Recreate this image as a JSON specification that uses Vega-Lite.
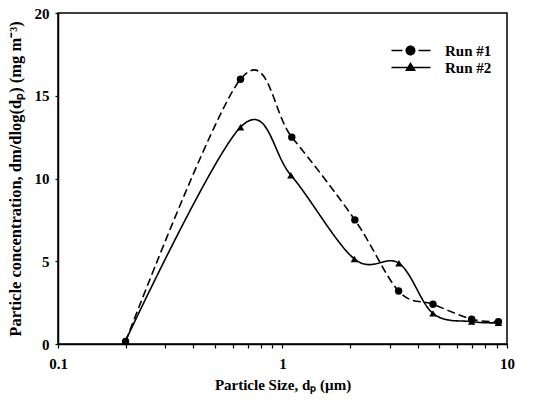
{
  "$schema": "https://vega.github.io/schema/vega-lite/v6.json",
  "autosize": {"type": "none"},
  "width": 449,
  "height": 331,
  "padding": {"left": 58, "top": 13, "right": 43, "bottom": 59},
  "background": "white",
  "config": {
    "font": "Liberation Serif",
    "view": {"stroke": "black", "strokeWidth": 1.5},
    "axis": {
      "grid": false,
      "domainColor": "black",
      "domainWidth": 1.5,
      "tickColor": "black",
      "tickWidth": 1.2,
      "tickSize": 4,
      "labelColor": "black",
      "labelFont": "Liberation Serif",
      "labelFontSize": 15,
      "labelFontWeight": "bold",
      "titleColor": "black",
      "titleFont": "Liberation Serif",
      "titleFontSize": 15,
      "titleFontWeight": "bold"
    }
  },
  "data": {
    "values": [
      {"run": "Run #1", "size": 0.2, "conc": 0.15},
      {"run": "Run #1", "size": 0.65, "conc": 16.0},
      {"run": "Run #1", "size": 1.1, "conc": 12.5},
      {"run": "Run #1", "size": 2.1, "conc": 7.5},
      {"run": "Run #1", "size": 3.29, "conc": 3.2},
      {"run": "Run #1", "size": 4.68, "conc": 2.4},
      {"run": "Run #1", "size": 6.96, "conc": 1.5},
      {"run": "Run #1", "size": 9.16, "conc": 1.35},
      {"run": "Run #2", "size": 0.2, "conc": 0.2},
      {"run": "Run #2", "size": 0.65, "conc": 13.1},
      {"run": "Run #2", "size": 1.09, "conc": 10.2},
      {"run": "Run #2", "size": 2.09, "conc": 5.14},
      {"run": "Run #2", "size": 3.3, "conc": 4.88},
      {"run": "Run #2", "size": 4.68, "conc": 1.85},
      {"run": "Run #2", "size": 6.96, "conc": 1.35},
      {"run": "Run #2", "size": 9.16, "conc": 1.28}
    ]
  },
  "encoding": {
    "x": {
      "field": "size",
      "type": "quantitative",
      "title": "Particle Size, dₚ (µm)",
      "scale": {"type": "log", "domain": [0.1, 10], "nice": false},
      "axis": {
        "values": [0.1, 0.2, 0.3, 0.4, 0.5, 0.6, 0.7, 0.8, 0.9, 1, 2, 3, 4, 5, 6, 7, 8, 9, 10],
        "labelExpr": "datum.value == 0.1 || datum.value == 1 || datum.value == 10 ? format(datum.value, '~g') : ''",
        "labelFlush": false,
        "labelOverlap": false,
        "labelPadding": 8,
        "titlePadding": 6
      }
    },
    "y": {
      "field": "conc",
      "type": "quantitative",
      "title": "Particle concentration, dm/dlog(dₚ)  (mg m⁻³)",
      "scale": {"domain": [0, 20], "nice": false},
      "axis": {
        "values": [0, 5, 10, 15, 20],
        "tickSize": 3,
        "labelPadding": 6,
        "titlePadding": 11,
        "titleFontSize": 16.5
      }
    }
  },
  "layer": [
    {
      "mark": {"type": "line", "interpolate": "cardinal", "tension": 0, "color": "black", "strokeWidth": 1.6},
      "encoding": {
        "detail": {"field": "run"},
        "strokeDash": {
          "field": "run",
          "scale": {"domain": ["Run #1", "Run #2"], "range": [[8, 4], [1, 0]]},
          "legend": null
        }
      }
    },
    {
      "mark": {"type": "point", "filled": true, "color": "black", "opacity": 1, "size": 55},
      "encoding": {
        "shape": {
          "field": "run",
          "scale": {"domain": ["Run #1", "Run #2"], "range": ["circle", "triangle-up"]},
          "legend": null
        }
      }
    },
    {
      "mark": {"type": "point", "filled": true, "color": "black", "opacity": 0},
      "encoding": {
        "shape": {
          "field": "run",
          "scale": {
            "domain": ["Run #1", "Run #2"],
            "range": [
              "M-3.8,-0.15H-1.6V0.15H-3.8Z M1.6,-0.15H4V0.15H1.6Z M-1,0A1,1 0 1,1 1,0A1,1 0 1,1 -1,0Z",
              "M-3.8,-0.15H4V0.15H-3.8Z M-1.1,0.7L0,-1.1L1.1,0.7Z"
            ]
          },
          "legend": {
            "title": null,
            "orient": "none",
            "legendX": 345,
            "legendY": 30,
            "padding": 0,
            "symbolSize": 100,
            "symbolOpacity": 1,
            "symbolFillColor": "black",
            "symbolStrokeWidth": 0,
            "labelOffset": 27,
            "labelFont": "Liberation Serif",
            "labelFontSize": 15,
            "labelFontWeight": "bold",
            "labelColor": "black",
            "rowPadding": 1
          }
        }
      }
    }
  ],
  "resolve": {"scale": {"shape": "independent"}, "legend": {"shape": "independent"}}
}
